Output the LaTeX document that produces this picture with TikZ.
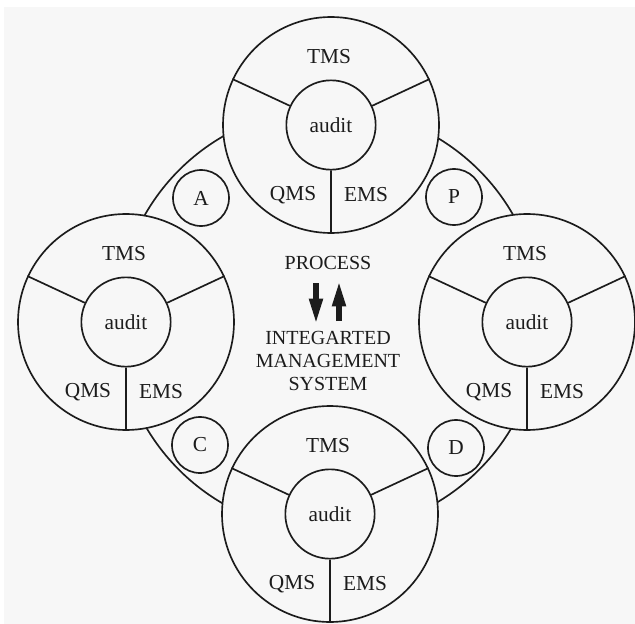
\documentclass[tikz,border=0pt]{standalone}
\usepackage{fontspec}
\setmainfont{Liberation Serif}
\usetikzlibrary{positioning, arrows.meta}
\definecolor{paper_grey}{HTML}{F7F7F7}
\definecolor{ink}{HTML}{1C1C1C}

\begin{document}
\begin{tikzpicture}[x=0.75pt, y=-0.75pt]
	\tikzset{
		every node/.style={text=ink, font=\fontsize{16pt}{19pt}\selectfont}, % serif labels
		wheel/.style={circle, draw=ink, line width=1.25pt, fill=paper_grey, minimum size=162pt, inner sep=0pt}, % outer circle of a system
		hub/.style={circle, draw=ink, line width=1.25pt, minimum size=67pt, inner sep=0pt}, % audit circle
		stage/.style={circle, draw=ink, line width=1.25pt, fill=paper_grey, minimum size=42pt, inner sep=0pt}, % P, D, C, A
		spoke/.style={draw=ink, line width=1.25pt},
		flow/.style={draw=ink, line width=4.2pt, -{Triangle[length=19pt, width=9.5pt]}}, % fat arrows in the middle
	}
	\useasboundingbox (0,0) rectangle (635,624);
	\fill[paper_grey] (4,7) rectangle (635,624);

	% the cycle behind everything
	\coordinate (mid) at (329,320);
	\draw[spoke] (mid) circle (159pt);

	% top
	\node[wheel] (top) at (331,125) {};
	\node[hub] (top_hub) at (top) {audit};
	\draw[spoke] (top_hub.155) -- (top.155) (top_hub.25) -- (top.25) (top_hub.270) -- (top.270);
	\node at ([shift={(-2,-68)}]top) {TMS};
	\node at ([shift={(-38,70)}]top) {QMS};
	\node at ([shift={(35,70)}]top) {EMS};

	% left
	\node[wheel] (left) at (126,322) {};
	\node[hub] (left_hub) at (left) {audit};
	\draw[spoke] (left_hub.155) -- (left.155) (left_hub.25) -- (left.25) (left_hub.270) -- (left.270);
	\node at ([shift={(-2,-68)}]left) {TMS};
	\node at ([shift={(-38,70)}]left) {QMS};
	\node at ([shift={(35,70)}]left) {EMS};

	% right
	\node[wheel] (right) at (527,322) {};
	\node[hub] (right_hub) at (right) {audit};
	\draw[spoke] (right_hub.155) -- (right.155) (right_hub.25) -- (right.25) (right_hub.270) -- (right.270);
	\node at ([shift={(-2,-68)}]right) {TMS};
	\node at ([shift={(-38,70)}]right) {QMS};
	\node at ([shift={(35,70)}]right) {EMS};

	% bottom
	\node[wheel] (bottom) at (330,514) {};
	\node[hub] (bottom_hub) at (bottom) {audit};
	\draw[spoke] (bottom_hub.155) -- (bottom.155) (bottom_hub.25) -- (bottom.25) (bottom_hub.270) -- (bottom.270);
	\node at ([shift={(-2,-68)}]bottom) {TMS};
	\node at ([shift={(-38,70)}]bottom) {QMS};
	\node at ([shift={(35,70)}]bottom) {EMS};

	% stages of the cycle
	\node[stage] (a) at (201,198) {A};
	\node[stage] (p) at (454,197) {P};
	\node[stage] (c) at (200,445) {C};
	\node[stage] (d) at (456,448) {D};

	% centre
	\node[font=\fontsize{15pt}{17pt}\selectfont] (proc) at (328,263) {PROCESS};
	\node[font=\fontsize{15pt}{17pt}\selectfont, align=center] (ims) at (328,361) {INTEGARTED\\MANAGEMENT\\SYSTEM};
	\coordinate (down_from) at (316,283);
	\coordinate (down_to) at (316,324);
	\coordinate (up_from) at (339,321);
	\coordinate (up_to) at (339,281);
	\draw[flow] (down_from) -- (down_to);
	\draw[flow] (up_from) -- (up_to);
\end{tikzpicture}
\end{document}
